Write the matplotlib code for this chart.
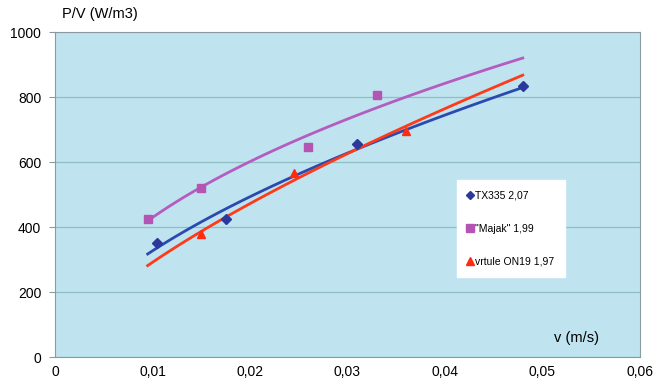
import numpy as np
import matplotlib
matplotlib.use('Agg')
import matplotlib.pyplot as plt
from matplotlib.ticker import FuncFormatter

plt.rcParams['font.family'] = ['Liberation Sans', 'DejaVu Sans']

# ─── DATA ─────────────────────────────────────────────────────────────────────
tx_v = [0.0105, 0.0175, 0.031, 0.048]
tx_p = [350, 425, 655, 835]
majak_v = [0.0095, 0.015, 0.026, 0.033]
majak_p = [425, 520, 645, 805]
vrt_v = [0.015, 0.0245, 0.036]
vrt_p = [380, 565, 695]

labels = ['TX335 2,07', '"Majak" 1,99', 'vrtule ON19 1,97']
trend_range = (0.0095, 0.048)

BG = '#bfe4ef'
COLORS = ['#2b3a9a', '#b455b4', '#ff2a10']
LINE_COLORS = ['#2a4ab0', '#b45cc0', '#ff3a1a']


def power_fit(v, p):
    # Excel-style power trendline: p = a * v^b
    b, a = np.polyfit(np.log(v), np.log(p), 1)
    return np.exp(a), b


fig = plt.figure(figsize=(6.72, 3.86), dpi=100)
ax = fig.add_axes([0.082, 0.075, 0.870, 0.842])
ax.set_facecolor(BG)

xs = np.linspace(*trend_range, 100)
series = [(tx_v, tx_p, 'D', 5), (majak_v, majak_p, 's', 6), (vrt_v, vrt_p, '^', 6)]
handles = []
for (v, p, m, ms), c, lc, lab in zip(series, COLORS, LINE_COLORS, labels):
    a, b = power_fit(v, p)
    ax.plot(xs, a * xs ** b, color=lc, lw=2.0, zorder=2)
    h, = ax.plot(v, p, ls='none', marker=m, ms=ms, color=c, mec=c, label=lab, zorder=3)
    handles.append(h)

ax.set_xlim(0, 0.06)
ax.set_ylim(0, 1000)
ax.set_xticks(np.arange(0, 0.061, 0.01))
ax.set_yticks(np.arange(0, 1001, 200))
ax.xaxis.set_major_formatter(FuncFormatter(lambda x, _: '0' if x == 0 else f'{x:.2f}'.replace('.', ',')))
ax.yaxis.grid(True, color='#8fbfc4', lw=0.9)
ax.set_axisbelow(True)
for s in ax.spines.values():
    s.set_color('#8a9aa0')
ax.tick_params(axis='both', labelsize=10, length=4, color='#8a9aa0', pad=6)
ax.tick_params(axis='x', length=0)

fig.text(0.093, 0.945, 'P/V (W/m3)', fontsize=10.5, ha='left', va='bottom')
ax.text(0.0535, 60, 'v (m/s)', fontsize=10.5, ha='center', va='center')

leg = ax.legend(handles=handles, loc='upper left', bbox_to_anchor=(0.678, 0.56),
                fontsize=7.5, frameon=True, fancybox=False, framealpha=1,
                handlelength=0.6, handletextpad=0.2, labelspacing=2.2,
                borderpad=1.0, markerscale=0.9)
leg.get_frame().set_facecolor('white')
leg.get_frame().set_edgecolor('white')

fig.savefig('out.png', dpi=100, facecolor='white')
